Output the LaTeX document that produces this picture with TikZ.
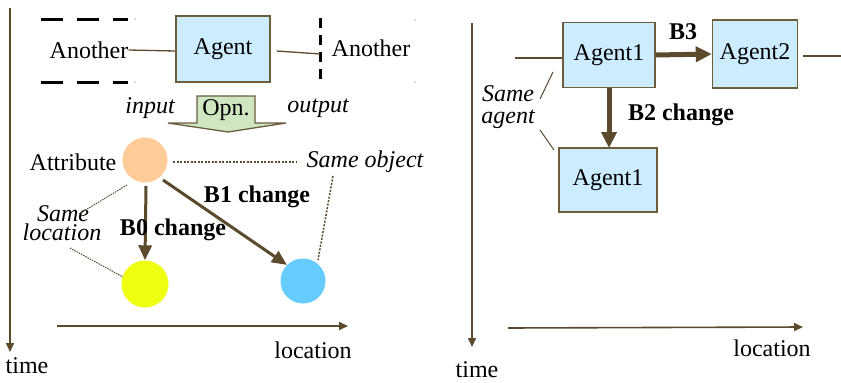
\documentclass[tikz,border=0pt]{standalone}
\usepackage{fontspec}
\setmainfont{Liberation Serif}
\usetikzlibrary{arrows.meta}
\definecolor{brn}{HTML}{5B4A2C}
\definecolor{bord}{HTML}{6E5C3E}
\definecolor{boxfill}{HTML}{CCECFF}
\definecolor{peach}{HTML}{FFCC99}
\definecolor{yel}{HTML}{EEFF11}
\definecolor{sky}{HTML}{66CCFF}
\definecolor{opng}{HTML}{CFE6C3}
\tikzset{
  every node/.style={font=\fontsize{24}{26}\selectfont, inner sep=0pt},
  agentbox/.style={draw=bord, line width=1.5pt, fill=boxfill, minimum width=#1, minimum height=66},
  agentbox/.default=94,
  axis/.style={draw=brn, line width=1.6pt, -{Triangle[length=9, width=8]}},
  thin/.style={draw=brn, line width=1.3pt},
  dots/.style={draw=brn, line width=1.8pt, dash pattern=on 2pt off 1.5pt},
  bigarrow/.style={draw=brn, fill=brn, line width=3pt, -{Triangle[length=15, width=13]}},
  fatarrow/.style={draw=brn, fill=brn, line width=5pt, -{Triangle[length=16, width=15]}},
  blackdash/.style={draw=black, line width=3pt, dash pattern=on 22pt off 14pt},
  it/.style={font=\fontsize{24}{24}\itshape},
  bf/.style={font=\fontsize{24}{26}\bfseries},
}
\begin{document}
\begin{tikzpicture}[x=1pt, y=-1pt]
\useasboundingbox (0,0) rectangle (841,383);
% ---------- left panel ----------
\coordinate (t0) at (10,8);
\coordinate (t1) at (10,352);
\draw[axis] (t0) -- (t1);
\node (time1) at (27,366) {time};
\coordinate (l0) at (57,326);
\coordinate (l1) at (348,326);
\draw[axis] (l0) -- (l1);
\node (loc1) at (313,350) {location};

% dashed frames
\coordinate (da) at (41,19);
\coordinate (db) at (128,19);
\coordinate (dc) at (41,82);
\coordinate (dd) at (128,82);
\draw[blackdash] (da) -- (db);
\draw[blackdash] (dc) -- (dd);
\coordinate (dv0) at (320,18);
\coordinate (dv1) at (320,84);
\draw[black, line width=3pt, dash pattern=on 10pt off 7pt] (dv0) -- (dv1);
\fill[gray!60] (135,19) circle (0.8) (135,82) circle (0.8) (415,20) circle (0.8) (415,82) circle (0.8);

\node (anL) at (89,50) {Another};
\node (anR) at (371,48) {Another};
\node[agentbox] (agent) at (223,49) {Agent};
\draw[thin] (anL.east) -- ([yshift=-2pt]agent.west);
\coordinate (rEnd) at (320,54);
\draw[thin] ([yshift=-2pt]agent.east) ++(6,0) -- (rEnd);

% Opn block arrow
\draw[draw=bord, line width=1.3pt, fill=opng]
  (197,96) -- (255,96) -- (255,123) -- (286,123) -- (228,132) -- (168,123) -- (197,123) -- cycle;
\node (opn) at (226,110) {Opn.};
\node[it] (inp) at (150,108) {input};
\node[it] (outp) at (318,108) {output};

% circles
\node[circle, fill=peach, minimum size=45] (attr) at (145,160) {};
\node (attrtxt) at (73,162) {Attribute};
\node[circle, fill=yel, minimum size=47] (ycirc) at (145,284) {};
\node[circle, fill=sky, minimum size=45] (bcirc) at (303,281) {};
\node[it] (sobj) at (365,162) {Same object};
\node[it, anchor=base] (slocA) at (63,221) {Same};
\node[it, anchor=base] (slocB) at (62,240) {location};

\coordinate (dA) at (173,162);
\coordinate (dB) at (296,162);
\draw[dots] (dA) -- (dB);
\coordinate (dC) at (333,176);
\coordinate (dD) at (318,260);
\draw[dots, line width=1.5pt] (dC) -- (dD);
\coordinate (dE) at (127,185);
\coordinate (dF) at (79,214);
\draw[dots, line width=1pt, dash pattern=on 1.5pt off 1pt] (dE) -- (dF);
\coordinate (dG) at (70,248);
\coordinate (dH) at (123,277);
\draw[dots, line width=1pt, dash pattern=on 1.5pt off 1pt] (dG) -- (dH);

\draw[bigarrow] (146,186) -- (ycirc.north);
\draw[bigarrow] (163,180) -- (bcirc.north west);
\node[bf] (b1) at (257,197) {B1 change};
\node[bf] (b0) at (173,230) {B0 change};

% ---------- right panel ----------
\coordinate (T0) at (472,23);
\coordinate (T1) at (472,347);
\draw[axis] (T0) -- (T1);
\node (time2) at (477,370) {time};
\coordinate (L0) at (508,328);
\coordinate (L1) at (803,327);
\draw[axis] (L0) -- (L1);
\node (loc2) at (772,348) {location};

\node[agentbox=92, minimum height=65] (a1) at (609,55) {Agent1};
\node[agentbox=85, minimum height=68] (a2) at (755,54) {Agent2};
\node[agentbox=98, minimum height=64] (a1b) at (608,180) {Agent1};

\coordinate (lin) at (515,58);
\draw[thin] (lin) -- (lin -| a1.west);
\coordinate (lout) at (841,56);
\draw[thin] (a2.east) ++(5,2) -- (lout);

\draw[fatarrow] (a1.east) -- (a2.west);
\node[bf] (b3) at (683,32) {B3};
\coordinate (b2s) at (609,88);
\coordinate (b2e) at (609,148);
\draw[fatarrow] (b2s) -- (b2e);
\node[bf] (b2) at (681,115) {B2 change};

\node[it, align=center, font=\fontsize{24}{22}\itshape] (sag) at (508,107) {Same\\agent};
\coordinate (s1) at (553,72);
\coordinate (s2) at (540,99);
\draw[thin, line width=1pt] (s1) -- (s2);
\coordinate (s3) at (540,130);
\coordinate (s4) at (554,150);
\draw[thin, line width=1pt] (s3) -- (s4);
\end{tikzpicture}
\end{document}
